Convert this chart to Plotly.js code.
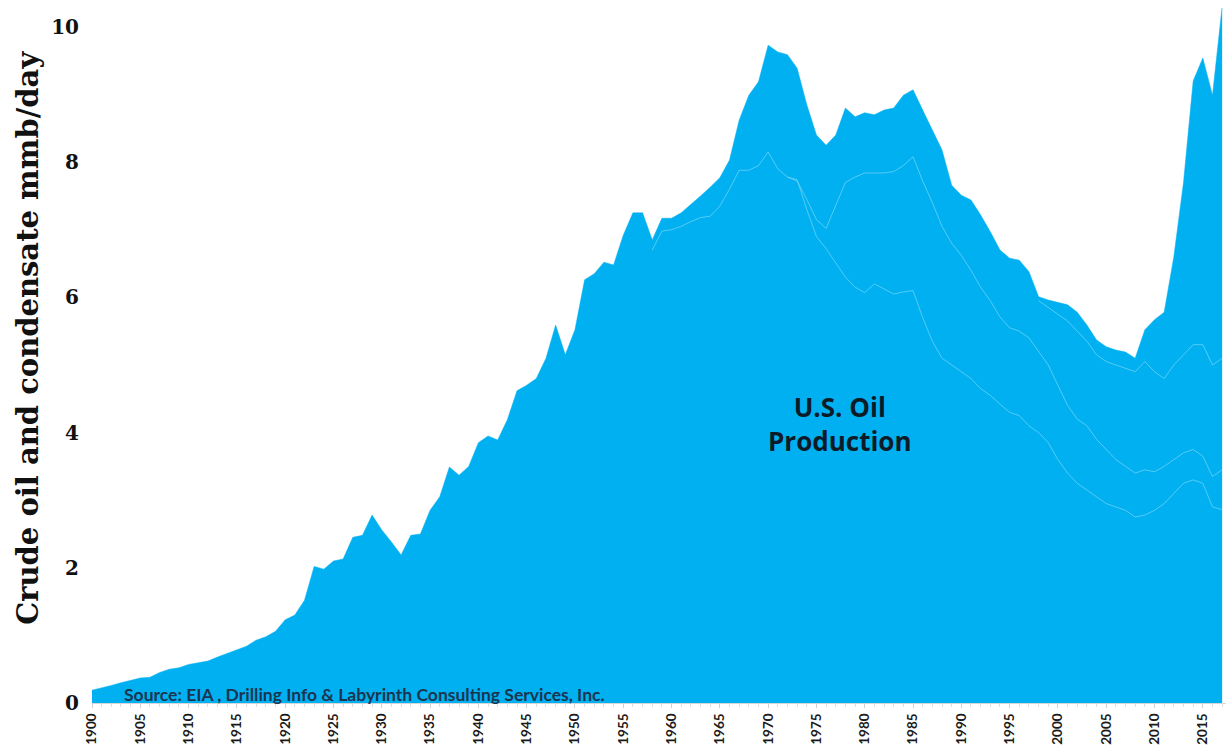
<!DOCTYPE html>
<html>
<head>
<meta charset="utf-8">
<script src="https://cdn.plot.ly/plotly-3.0.1.min.js"></script>
<style>
  html, body { margin: 0; padding: 0; background: #ffffff; }
  #chart { width: 1226px; height: 752px; }
</style>
</head>
<body>
<div id="chart"></div>
<script>
// ---- data ----
const years = [];
for (let y = 1900; y <= 2017; y++) years.push(y);

// Total U.S. crude oil and condensate production, mmb/day (top of the area)
const totalProduction = [
  0.19, 0.22, 0.26, 0.30, 0.34, 0.37, 0.38, 0.45, 0.50, 0.52,   // 1900-1909
  0.57, 0.60, 0.62, 0.68, 0.73, 0.78, 0.84, 0.93, 0.98, 1.06,   // 1910-1919
  1.23, 1.30, 1.52, 2.02, 1.98, 2.10, 2.13, 2.45, 2.48, 2.78,   // 1920-1929
  2.56, 2.38, 2.19, 2.48, 2.50, 2.85, 3.05, 3.49, 3.37, 3.50,   // 1930-1939
  3.85, 3.95, 3.89, 4.19, 4.62, 4.70, 4.80, 5.10, 5.59, 5.15,   // 1940-1949
  5.52, 6.26, 6.35, 6.52, 6.48, 6.92, 7.25, 7.25, 6.85, 7.17,   // 1950-1959
  7.17, 7.25, 7.37, 7.50, 7.63, 7.77, 8.03, 8.62, 8.99, 9.19,   // 1960-1969
  9.73, 9.63, 9.59, 9.39, 8.85, 8.40, 8.25, 8.40, 8.80, 8.67,   // 1970-1979
  8.73, 8.70, 8.77, 8.80, 8.99, 9.07, 8.77, 8.48, 8.18, 7.66,   // 1980-1989
  7.51, 7.44, 7.22, 6.97, 6.70, 6.58, 6.55, 6.38, 6.01, 5.96,   // 1990-1999
  5.93, 5.89, 5.78, 5.59, 5.37, 5.27, 5.22, 5.19, 5.10, 5.52,   // 2000-2009
  5.67, 5.78, 6.60, 7.70, 9.20, 9.54, 8.99, 10.30               // 2010-2017
];

// Faint boundary lines between the stacked layers (null where a layer is absent)
const layerLineA = [
  null, null, null, null, null, null, null, null, null, null,
  null, null, null, null, null, null, null, null, null, null,
  null, null, null, null, null, null, null, null, null, null,
  null, null, null, null, null, null, null, null, null, null,
  null, null, null, null, null, null, null, null, null, null,
  null, null, null, null, null, null, null, null, 6.70, 6.98,
  7.00, 7.05, 7.12, 7.18, 7.20, 7.35, 7.60, 7.88, 7.88, 7.95,
  8.15, 7.90, 7.78, 7.72, 7.45, 7.15, 7.02, 7.35, 7.70, 7.78,
  7.84, 7.84, 7.84, 7.86, 7.95, 8.08, 7.72, 7.40, 7.05, 6.80,
  6.62, 6.40, 6.15, 5.95, 5.71, 5.55, 5.50, 5.40, 5.20, 5.00,
  4.70, 4.40, 4.20, 4.10, 3.90, 3.75, 3.60, 3.50, 3.40, 3.45,
  3.42, 3.50, 3.60, 3.70, 3.75, 3.65, 3.35, 3.45
];

const layerLineB = [
  null, null, null, null, null, null, null, null, null, null,
  null, null, null, null, null, null, null, null, null, null,
  null, null, null, null, null, null, null, null, null, null,
  null, null, null, null, null, null, null, null, null, null,
  null, null, null, null, null, null, null, null, null, null,
  null, null, null, null, null, null, null, null, null, null,
  null, null, null, null, null, null, null, null, null, null,
  null, null, 7.78, 7.74, 7.30, 6.90, 6.72, 6.50, 6.30, 6.15,
  6.07, 6.20, 6.12, 6.05, 6.08, 6.10, 5.70, 5.35, 5.10, 5.00,
  4.90, 4.80, 4.65, 4.55, 4.42, 4.30, 4.25, 4.10, 4.00, 3.85,
  3.60, 3.40, 3.25, 3.15, 3.05, 2.95, 2.90, 2.85, 2.75, 2.78,
  2.85, 2.95, 3.10, 3.25, 3.30, 3.25, 2.90, 2.86
];

const layerLineD = [
  null, null, null, null, null, null, null, null, null, null,
  null, null, null, null, null, null, null, null, null, null,
  null, null, null, null, null, null, null, null, null, null,
  null, null, null, null, null, null, null, null, null, null,
  null, null, null, null, null, null, null, null, null, null,
  null, null, null, null, null, null, null, null, null, null,
  null, null, null, null, null, null, null, null, null, null,
  null, null, null, null, null, null, null, null, null, null,
  null, null, null, null, null, null, null, null, null, null,
  null, null, null, null, null, null, null, null, 5.95, 5.85,
  5.75, 5.65, 5.50, 5.35, 5.15, 5.05, 5.00, 4.95, 4.90, 5.05,
  4.90, 4.80, 5.00, 5.15, 5.30, 5.30, 5.00, 5.10
];

const yTickVals = [0, 2, 4, 6, 8, 10];
const xTickVals = [];
for (let y = 1900; y <= 2015; y += 5) xTickVals.push(y);

const yAxisLabel = 'Crude oil and condensate mmb/day';
const areaLabel = 'U.S. Oil<br>Production';
const sourceNote = 'Source: EIA , Drilling Info &amp; Labyrinth Consulting Services, Inc.';

// ---- styling ----
const FILL = '#00B0F0';
const FAINT = 'rgba(120, 215, 250, 0.7)';

const traces = [
  {
    x: years, y: totalProduction, type: 'scatter', mode: 'lines',
    fill: 'tozeroy', fillcolor: FILL,
    line: { color: FILL, width: 0.5 },
    name: 'U.S. Oil Production', hoverinfo: 'x+y'
  },
  {
    x: years, y: layerLineA, type: 'scatter', mode: 'lines',
    line: { color: FAINT, width: 1 }, connectgaps: false,
    name: 'Layer boundary A', hoverinfo: 'skip'
  },
  {
    x: years, y: layerLineB, type: 'scatter', mode: 'lines',
    line: { color: FAINT, width: 1 }, connectgaps: false,
    name: 'Layer boundary B', hoverinfo: 'skip'
  },
  {
    x: years, y: layerLineD, type: 'scatter', mode: 'lines',
    line: { color: FAINT, width: 1 }, connectgaps: false,
    name: 'Layer boundary C', hoverinfo: 'skip'
  }
];

const layout = {
  width: 1226, height: 752,
  margin: { l: 92, r: 0, t: 8, b: 49, pad: 0 },
  paper_bgcolor: '#ffffff', plot_bgcolor: '#ffffff',
  showlegend: false,
  xaxis: {
    range: [1900, 2017.4],
    tickmode: 'array', tickvals: xTickVals, ticktext: xTickVals.map(String),
    tickangle: -90,
    tickfont: { family: 'Lato, "Open Sans", sans-serif', size: 13.5, color: '#1a1a1a', weight: 'bold' },
    ticks: 'outside', ticklen: 4, tickcolor: '#d0d0d0', tickwidth: 1,
    minor: { dtick: 1, tick0: 1900, ticks: 'outside', ticklen: 3, tickcolor: '#dedede' },
    showline: true, linecolor: '#d6d6d6', linewidth: 1,
    showgrid: false, zeroline: false
  },
  yaxis: {
    range: [0, 10.28],
    tickmode: 'array', tickvals: yTickVals, ticktext: yTickVals.map(String),
    tickfont: { family: '"DejaVu Serif", serif', size: 20, color: '#111111', weight: 'bold' },
    ticks: '', ticklabelstandoff: 12,
    showline: false, showgrid: false, zeroline: false
  },
  annotations: [
    {
      x: -0.0565, y: 5.4, xref: 'paper', yref: 'y',
      text: '<b>' + yAxisLabel + '</b>', showarrow: false, textangle: -90,
      font: { family: '"DejaVu Serif", serif', size: 29, color: '#111111' },
      xanchor: 'center', yanchor: 'middle'
    },
    {
      x: 1977.4, y: 4.13, xref: 'x', yref: 'y',
      text: '<b>' + areaLabel + '</b>', showarrow: false,
      font: { family: '"Open Sans", Lato, sans-serif', size: 26, color: '#0c1b28' },
      align: 'center', xanchor: 'center', yanchor: 'middle'
    },
    {
      x: 1903.1, y: 0.12, xref: 'x', yref: 'y',
      text: '<b>' + sourceNote + '</b>', showarrow: false,
      font: { family: 'Lato, "Open Sans", sans-serif', size: 17.5, color: '#1b3550' },
      xanchor: 'left', yanchor: 'middle'
    }
  ]
};

Plotly.newPlot('chart', traces, layout, { displayModeBar: false, staticPlot: true });
</script>
</body>
</html>
